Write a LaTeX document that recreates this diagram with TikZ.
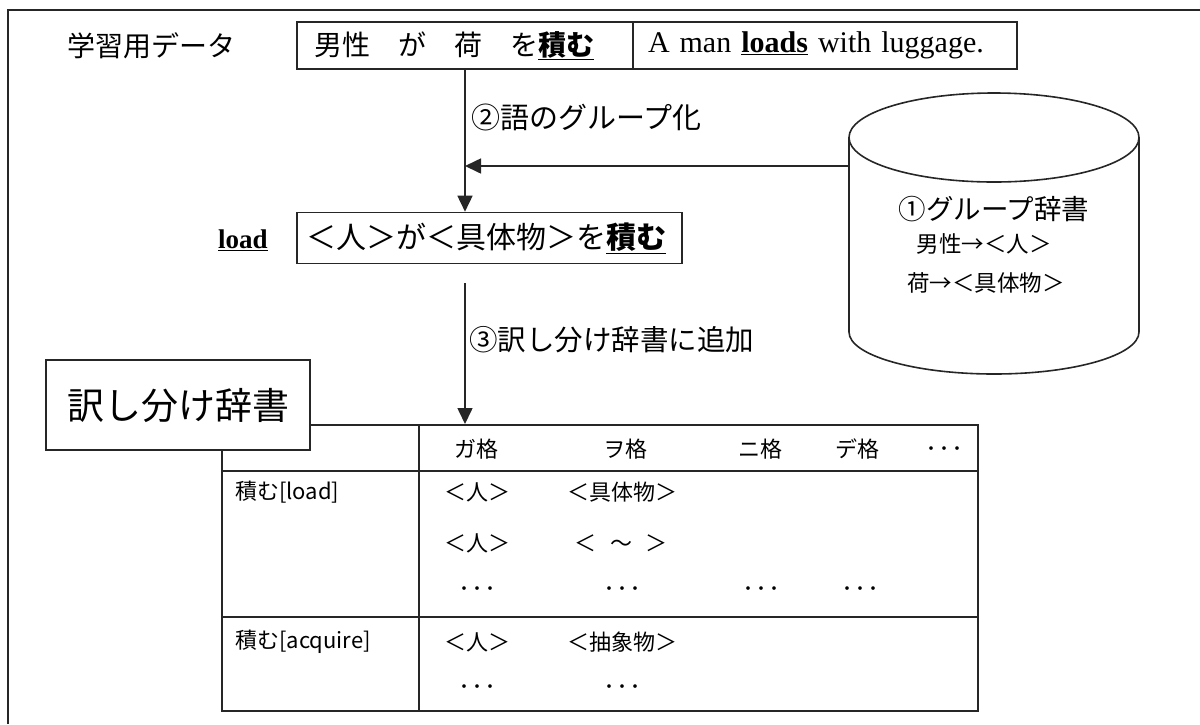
\documentclass[tikz,border=0pt]{standalone}
\usepackage{fontspec}
\setmainfont{Liberation Serif}
\newfontfamily\jp{Noto Sans CJK JP}
\usetikzlibrary{arrows.meta}
\begin{document}
\begin{tikzpicture}[x=1pt,y=-1pt,
  ln/.style={line width=1.6pt, draw=black!85},
  box/.style={ln, inner ysep=0pt, minimum height=47pt, align=left},
  lbl/.style={inner sep=0pt, font=\jp\fontsize{28}{30}\selectfont},
  sub/.style={inner sep=0pt, font=\jp\fontsize{22.5}{24}\selectfont},
  arr/.style={ln, -{Triangle[length=16pt,width=15pt]}},
  cell/.style={inner sep=0pt, font=\jp\fontsize{22}{24}\selectfont},
  dots/.style={inner sep=0pt, font=\jp\bfseries\fontsize{13}{14}\selectfont},
  tline/.style={line width=2pt, draw=black!85}]
\useasboundingbox (0,0) rectangle (1200,724);
% outer frame (partly cut)
\draw[ln] (8,724) -- (8,10) -- (1200,10);
% training data
\node[lbl] (train) at (151,46) {学習用データ};
\node[box, minimum width=336pt, text width=302pt, inner xsep=17pt, font=\jp\fontsize{28}{30}\selectfont] (s1) at (465,45.5)
  {男性　が　荷　を\underline{\textbf{積む}}};
\node[box, minimum width=384pt, text width=354pt, inner xsep=15pt, font=\fontsize{30}{32}\selectfont] (s2) at (825,45.5)
  {A man \underline{\textbf{loads}} with luggage.};
% grouped pattern
\node[inner sep=0pt, font=\bfseries\fontsize{27}{29}\selectfont] (load) at (243,240) {\underline{load}};
\node[box, minimum width=385pt, minimum height=51pt, text width=367pt, inner xsep=9pt, font=\jp\fontsize{30}{32}\selectfont] (mid) at (489.5,238)
  {＜人＞が＜具体物＞を\underline{\textbf{積む}}};
% arrows
\coordinate (c1) at (465,0);
\draw[arr] (s1.south -| c1) -- (mid.north -| c1);
\coordinate (cylL) at (849,166);
\draw[arr] (cylL) -- (cylL -| c1);
\node[lbl, anchor=west, font=\jp\fontsize{29}{30}\selectfont] (step2) at (471,117) {②語のグループ化};
% cylinder
\draw[ln] (994,137.5) ellipse [x radius=145, y radius=44.5];
\draw[ln] (849,137.5) -- (849,332) arc[start angle=180, end angle=0, x radius=145, y radius=42] -- (1139,137.5);
\node[lbl, font=\jp\fontsize{27.5}{29}\selectfont] (cyl1) at (994,209) {①グループ辞書};
\node[sub] (cyl2) at (984,244) {男性→＜人＞};
\node[sub] (cyl3) at (986,283) {荷→＜具体物＞};
% table
\node[tline, minimum width=756pt, minimum height=286pt, inner sep=0pt] (tbl) at (600,568) {};
\coordinate (colx) at (419,0);
\coordinate (h1) at (0,471);
\coordinate (h2) at (0,617);
\draw[tline] (tbl.north -| colx) -- (tbl.south -| colx);
\draw[tline] (tbl.west |- h1) -- (tbl.east |- h1);
\draw[tline] (tbl.west |- h2) -- (tbl.east |- h2);
% step 3 arrow
\coordinate (a2s) at (465,283);
\draw[arr] (a2s) -- (tbl.north -| a2s);
\node[lbl, anchor=west, font=\jp\fontsize{28.5}{30}\selectfont] (step3) at (469,340) {③訳し分け辞書に追加};
% title box
\node[ln, fill=white, minimum width=264pt, minimum height=90pt, inner sep=0pt, font=\jp\fontsize{37}{40}\selectfont] (title) at (178,405) {訳し分け辞書};
% header
\node[cell] (hga) at (476,449) {ガ格};
\node[cell] (hwo) at (625,449) {ヲ格};
\node[cell] (hni) at (760,449) {ニ格};
\node[cell] (hde) at (857,449) {デ格};
\node[dots] (hdt) at (944,450) {・・・};
% row 1
\node[cell, anchor=west] (r1) at (235,492) {積む[load]};
\node[cell] (r1a) at (477,492) {＜人＞};
\node[cell] (r1b) at (622,492) {＜具体物＞};
\node[cell] (r1c) at (477,543) {＜人＞};
\node[cell] (r1d) at (621,543) {＜\hspace{0.6em}～\hspace{0.6em}＞};
\node[dots] (d1) at (477,590) {・・・};
\node[dots] (d2) at (622,590) {・・・};
\node[dots] (d3) at (761,590) {・・・};
\node[dots] (d4) at (860,590) {・・・};
% row 2
\node[cell, anchor=west] (r2) at (235,642) {積む[acquire]};
\node[cell] (r2a) at (477,642) {＜人＞};
\node[cell] (r2b) at (622,642) {＜抽象物＞};
\node[dots] (d5) at (477,688) {・・・};
\node[dots] (d6) at (622,688) {・・・};
\end{tikzpicture}
\end{document}
